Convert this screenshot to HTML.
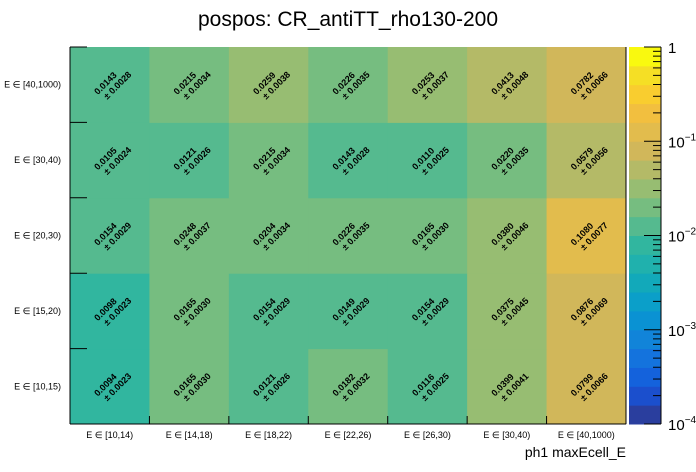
<!DOCTYPE html>
<html><head><meta charset="utf-8"><style>
html,body{margin:0;padding:0;background:#fff;}
svg{display:block;font-family:"Liberation Sans",sans-serif;}
</style></head><body>
<svg id="c" width="696" height="472" viewBox="0 0 696 472">
<text x="348" y="26" text-anchor="middle" font-size="21">pospos: CR_antiTT_rho130-200</text>
<text x="626" y="457" text-anchor="end" font-size="14">ph1 maxEcell_E</text>
<g id="cells"></g><g id="axes"></g><g id="cbar"></g>
</svg>
<script>
const xCats=["E ∈ [10,14)","E ∈ [14,18)","E ∈ [18,22)","E ∈ [22,26)","E ∈ [26,30)","E ∈ [30,40)","E ∈ [40,1000)"];
const yCats=["E ∈ [10,15)","E ∈ [15,20)","E ∈ [20,30)","E ∈ [30,40)","E ∈ [40,1000)"];
const row10=[0.0094,0.0165,0.0121,0.0182,0.0116,0.0399,0.0799];
const err10=[0.0023,0.0030,0.0026,0.0032,0.0025,0.0041,0.0066];
const row15=[0.0098,0.0165,0.0154,0.0149,0.0154,0.0375,0.0876];
const err15=[0.0023,0.0030,0.0029,0.0029,0.0029,0.0045,0.0069];
const row20=[0.0154,0.0248,0.0204,0.0226,0.0165,0.0380,0.1080];
const err20=[0.0029,0.0037,0.0034,0.0035,0.0030,0.0046,0.0077];
const row30=[0.0105,0.0121,0.0215,0.0143,0.0110,0.0220,0.0579];
const err30=[0.0024,0.0026,0.0034,0.0028,0.0025,0.0035,0.0056];
const row40=[0.0143,0.0215,0.0259,0.0226,0.0253,0.0413,0.0782];
const err40=[0.0028,0.0034,0.0038,0.0035,0.0037,0.0048,0.0066];
const cbTicks=["1","10","10","10","10"];
const cbExps=["","−1","−2","−3","−4"];
const vals=[row10,row15,row20,row30,row40];
const errs=[err10,err15,err20,err30,err40];
const palette=["#2a3e9e","#1b4fcd","#1462dc","#1473dd","#1184d9","#0a92d3","#0b9fc9","#12a9ba","#20b1ad","#31b69f","#55ba8f","#76bd80","#97bd72","#b4ba67","#d1b75a","#e2bc4d","#f2bf3f","#f9cd2f","#f5df25","#f9f90f"];
const NS="http://www.w3.org/2000/svg";
const X0=70,X1=626,Y0=47,Y1=424;
const cw=(X1-X0)/xCats.length, rh=(Y1-Y0)/yCats.length;
const xs=i=>X0+i*cw, ys=j=>Y1-(j+1)*rh;
const zMin=-4,zMax=0;
const cMin=-3.998,cMax=0.002;
const zy=v=>Y1-(Math.log10(v)-zMin)/(zMax-zMin)*(Y1-Y0);
function color(v){let k=Math.floor((Math.log10(v)-cMin)/(cMax-cMin)*palette.length);k=Math.max(0,Math.min(palette.length-1,k));return palette[k];}
function mk(t,a,p){const e=document.createElementNS(NS,t);for(const k in a)e.setAttribute(k,a[k]);p.appendChild(e);return e;}
const cells=document.getElementById('cells'),axes=document.getElementById('axes'),cb=document.getElementById('cbar');
for(let j=0;j<yCats.length;j++)for(let i=0;i<xCats.length;i++){
 const v=vals[j][i];
 const r=mk('rect',{x:xs(i),y:ys(j),width:cw+0.5,height:rh+0.5,fill:color(v)},cells);
 
 
 const cx=xs(i)+cw/2,cy=ys(j)+rh/2;
 const g=mk('g',{transform:`rotate(-45 ${cx} ${cy})`},cells);
 
 
 const t1=mk('text',{x:cx-2,y:cy-1,'text-anchor':'middle','font-size':'9','font-weight':'bold'},g);t1.textContent=v.toFixed(4);
 const t2=mk('text',{x:cx+5,y:cy+9,'text-anchor':'middle','font-size':'9','font-weight':'bold'},g);t2.textContent='± '+errs[j][i].toFixed(4);
}
mk('line',{x1:X0,y1:Y0,x2:X0,y2:Y1,stroke:'#000'},axes);
mk('line',{x1:X0,y1:Y1,x2:X1,y2:Y1,stroke:'#000'},axes);
mk('line',{x1:X1,y1:Y0,x2:X1,y2:Y1,stroke:'#000'},axes);
for(let i=0;i<xCats.length;i++){
 mk('line',{x1:xs(i+1),y1:Y1,x2:xs(i+1),y2:Y1-8,stroke:'#000'},axes);
 const t=mk('text',{x:xs(i)+cw/2,y:438,'text-anchor':'middle','font-size':'9'},axes);t.textContent=xCats[i];
 
 
}
for(let j=0;j<yCats.length;j++){
 mk('line',{x1:X0,y1:ys(j),x2:X0+17,y2:ys(j),stroke:'#000'},axes);
 const t=mk('text',{x:61,y:ys(j)+rh/2+3,'text-anchor':'end','font-size':'9'},axes);t.textContent=yCats[j];
 
 
}
const CB0=629,CB1=661;
for(let k=0;k<palette.length;k++){
 const yt=Y1-(k+1)*(Y1-Y0)/palette.length;
 const r=mk('rect',{x:CB0,y:yt,width:CB1-CB0,height:(Y1-Y0)/palette.length+0.5,fill:palette[k]},cb);
 
 
}
mk('line',{x1:CB1,y1:Y0,x2:CB1,y2:Y1,stroke:'#000'},cb);
for(let d=-4;d<=0;d++){
 mk('line',{x1:CB1,y1:zy(Math.pow(10,d)),x2:CB1-17,y2:zy(Math.pow(10,d)),stroke:'#000'},cb);
 if(d<0)for(let m=2;m<=9;m++){const y=zy(m*Math.pow(10,d));mk('line',{x1:CB1,y1:y,x2:CB1-8,y2:y,stroke:'#000'},cb);}
}
for(let n=0;n<cbTicks.length;n++){
 const y=zy(Math.pow(10,-n));
 const t=mk('text',{x:668,y:y+6,'font-size':'15'},cb);
 
 
 t.textContent=cbTicks[n];
 if(cbExps[n]){const s=mk('tspan',{dy:'-7','font-size':'10'},t);s.textContent=cbExps[n];}
}
</script>
</body></html>
